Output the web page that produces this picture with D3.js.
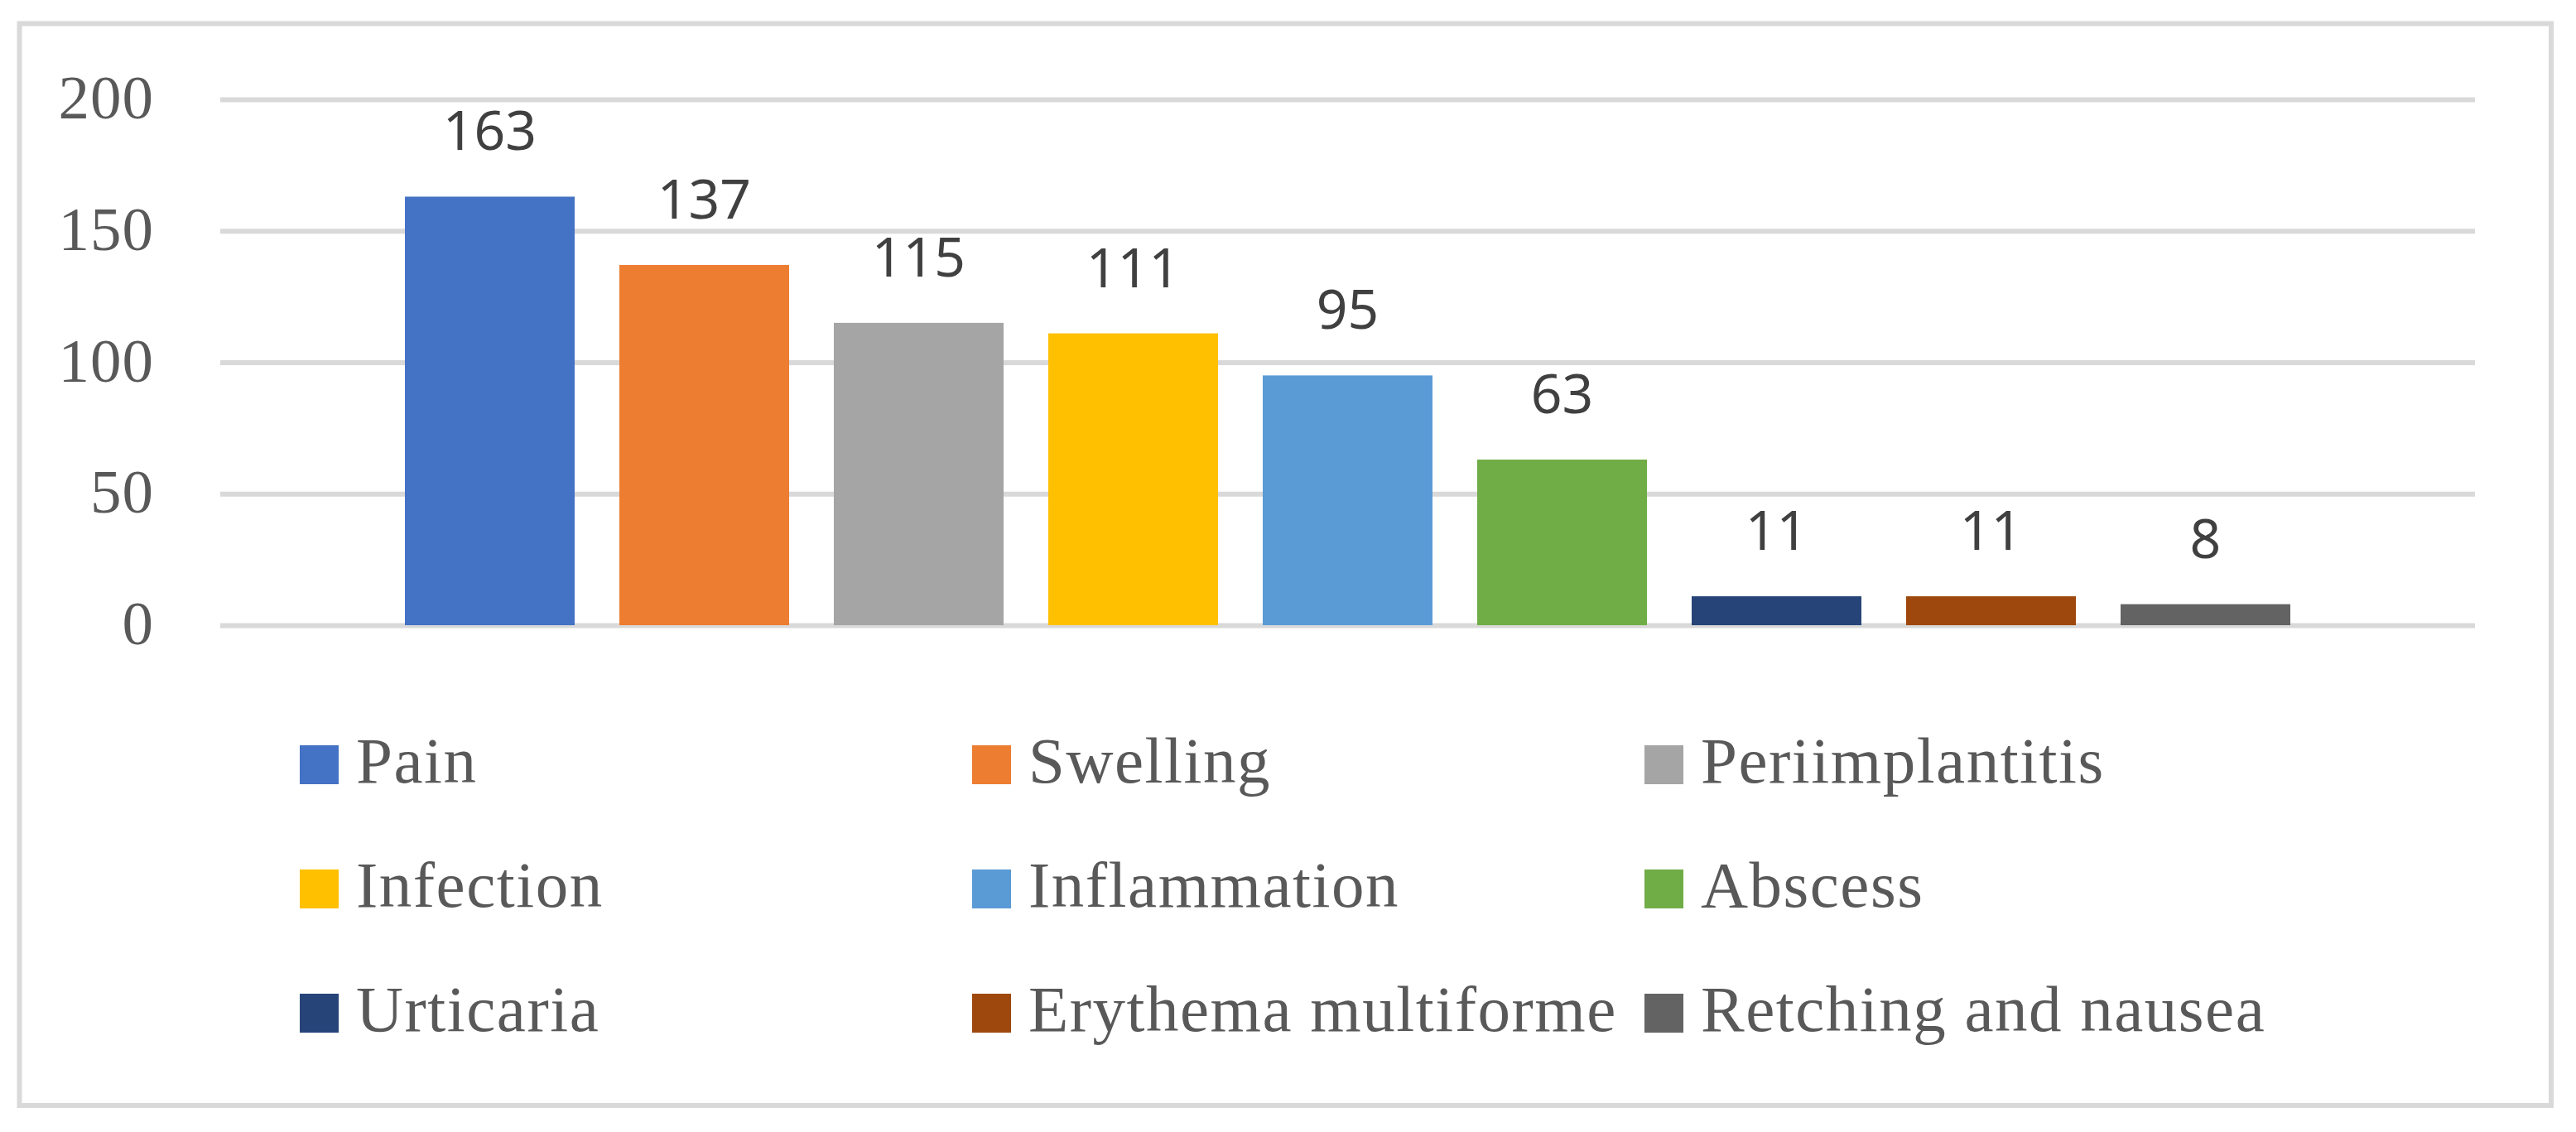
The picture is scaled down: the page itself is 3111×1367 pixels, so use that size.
<!DOCTYPE html>
<html>
<head>
<meta charset="utf-8">
<script src="https://cdn.jsdelivr.net/npm/d3@7"></script>
<style>
  body { margin: 0; background: #fff; }
  svg { display: block; }
</style>
</head>
<body>
<div id="chart"></div>
<script>
// data
var categories = ["Pain", "Swelling", "Periimplantitis", "Infection", "Inflammation",
                  "Abscess", "Urticaria", "Erythema multiforme", "Retching and nausea"];
var counts = [163, 137, 115, 111, 95, 63, 11, 11, 8];
var colors = ["#4472C4", "#ED7D31", "#A5A5A5", "#FFC000", "#5B9BD5",
              "#70AD47", "#264478", "#9E480E", "#636363"];
var yTicks = [0, 50, 100, 150, 200];

var W = 3111, H = 1367;
var plot = {left: 266, right: 2989, top: 120, bottom: 755};

var svg = d3.select("#chart").append("svg")
    .attr("width", W)
    .attr("height", H);

// outer frame
svg.append("rect")
    .attr("x", 23.5).attr("y", 28.5)
    .attr("width", 3081 - 23.5).attr("height", 1335 - 28.5)
    .style("fill", "#fff")
    .style("stroke", "#d9d9d9")
    .style("stroke-width", 6);

var x = d3.scaleBand()
    .domain(categories)
    .range([plot.left, plot.right])
    .paddingInner(0.2085)
    .paddingOuter(0.861);

var y = d3.scaleLinear()
    .domain([0, 200])
    .range([plot.bottom, plot.top]);

// gridlines + y labels
var yAxis = svg.append("g")
    .attr("transform", "translate(" + plot.left + ",0)")
    .call(d3.axisLeft(y)
        .tickValues(yTicks)
        .tickSize(-(plot.right - plot.left))
        .tickPadding(80));

yAxis.select(".domain").remove();
yAxis.selectAll(".tick line")
    .style("stroke", "#d9d9d9")
    .style("stroke-width", 6);
yAxis.selectAll(".tick text")
    .attr("dy", "0.3em")
    .style("font-family", "'Liberation Serif', 'Times New Roman', serif")
    .style("font-size", "75px")
    .style("letter-spacing", "1px")
    .style("fill", "#595959");

// bars
svg.selectAll("rect.bar")
    .data(categories)
    .enter().append("rect")
      .attr("class", "bar")
      .attr("x", d => x(d))
      .attr("width", x.bandwidth())
      .attr("y", (d, i) => y(counts[i]))
      .attr("height", (d, i) => y(0) - y(counts[i]))
      .style("fill", (d, i) => colors[i]);

// value labels
svg.selectAll("text.val")
    .data(categories)
    .enter().append("text")
      .attr("class", "val")
      .attr("x", d => x(d) + x.bandwidth() / 2)
      .attr("y", (d, i) => y(counts[i]) - 56)
      .attr("text-anchor", "middle")
      .style("font-family", "'Noto Sans', 'Open Sans', sans-serif")
      .style("font-size", "66px")
      .style("fill", "#404040")
      .text((d, i) => counts[i]);

// legend, 3 columns x 3 rows
var legend = svg.append("g");
var item = legend.selectAll("g")
    .data(categories)
    .enter().append("g")
      .attr("transform", (d, i) =>
          "translate(" + (362 + (i % 3) * 812) + "," + (900 + Math.floor(i / 3) * 150) + ")");

item.append("rect")
    .attr("width", 47)
    .attr("height", 47)
    .style("fill", (d, i) => colors[i]);

item.append("text")
    .attr("x", 68)
    .attr("y", 45)
    .style("font-family", "'Liberation Serif', 'Times New Roman', serif")
    .style("font-size", "79px")
    .style("letter-spacing", "1.5px")
    .style("fill", "#595959")
    .text(d => d);
</script>
</body>
</html>
